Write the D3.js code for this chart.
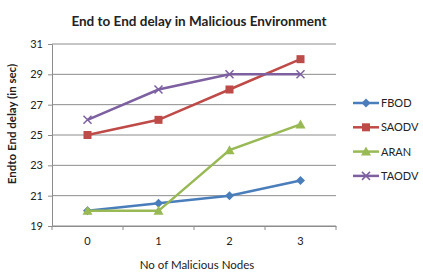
<!DOCTYPE html>
<html>
<head>
<meta charset="utf-8">
<script src="https://cdn.jsdelivr.net/npm/d3@7"></script>
<style>
  body { margin: 0; background: #fff; }
  text { font-family: Lato, "Open Sans", sans-serif; fill: #222; }
</style>
</head>
<body>
<div id="chart"></div>
<script>
var nodes = ['0', '1', '2', '3']
var yTicks = [19, 21, 23, 25, 27, 29, 31]

var fbod = [20, 20.5, 21, 22]
var saodv = [25, 26, 28, 30]
var aran = [20, 20, 24, 25.7]
var taodv = [26, 28, 29, 29]

var seriesNames = ['FBOD', 'SAODV', 'ARAN', 'TAODV']
var seriesValues = [fbod, saodv, aran, taodv]
var seriesColors = ['#4a7ebb', '#be4b48', '#98b954', '#7d60a0']
var seriesMarks = ['diamond', 'square', 'triangle', 'cross']

var width = 423, height = 280

var svg = d3.select('#chart')
    .append('svg')
    .attr('width', width)
    .attr('height', height)

var x = d3.scaleBand().domain(nodes).range([52, 336])
var y = d3.scaleLinear().domain([19, 31]).range([226, 44])

// gridlines
svg.append('g')
    .selectAll('line')
    .data(yTicks)
    .enter()
    .append('line')
    .attr('x1', 52).attr('x2', 336)
    .attr('y1', function(d) { return y(d) })
    .attr('y2', function(d) { return y(d) })
    .attr('stroke', '#8c8c8c')
    .attr('stroke-width', 1)

// y axis
var yAxis = svg.append('g')
    .attr('transform', 'translate(52,0)')
    .call(d3.axisLeft(y).tickValues(yTicks).tickSize(4).tickPadding(5))
yAxis.selectAll('path, line').attr('stroke', '#8c8c8c')
yAxis.selectAll('text').style('font-size', '11px').attr('fill', '#222')

// x axis, ticks on band boundaries
var xAxis = svg.append('g')
    .attr('transform', 'translate(0,226)')
    .call(d3.axisBottom(x).tickSize(0).tickPadding(11))
xAxis.select('path').attr('stroke', '#8c8c8c')
xAxis.selectAll('text').style('font-size', '11px').attr('fill', '#222')

svg.append('g')
    .selectAll('line')
    .data(nodes.concat(['end']))
    .enter()
    .append('line')
    .attr('x1', function(d, i) { return 52 + i * x.bandwidth() })
    .attr('x2', function(d, i) { return 52 + i * x.bandwidth() })
    .attr('y1', 226).attr('y2', 230)
    .attr('stroke', '#8c8c8c')

function cx(d, i) { return x(nodes[i]) + x.bandwidth() / 2 }

function drawMark(g, kind, color, px, py) {
    if (kind == 'diamond') {
        g.append('path')
            .attr('d', 'M' + px + ',' + (py - 4.5) + 'L' + (px + 4.5) + ',' + py + 'L' + px + ',' + (py + 4.5) + 'L' + (px - 4.5) + ',' + py + 'Z')
            .attr('fill', color)
    } else if (kind == 'square') {
        g.append('rect')
            .attr('x', px - 4).attr('y', py - 4)
            .attr('width', 8).attr('height', 8)
            .attr('fill', color)
    } else if (kind == 'triangle') {
        g.append('path')
            .attr('d', 'M' + px + ',' + (py - 5) + 'L' + (px + 5) + ',' + (py + 4) + 'L' + (px - 5) + ',' + (py + 4) + 'Z')
            .attr('fill', color)
    } else {
        g.append('path')
            .attr('d', 'M' + (px - 4) + ',' + (py - 4) + 'L' + (px + 4) + ',' + (py + 4) + 'M' + (px + 4) + ',' + (py - 4) + 'L' + (px - 4) + ',' + (py + 4))
            .attr('stroke', color)
            .attr('stroke-width', 1.5)
            .attr('fill', 'none')
    }
}

var line = d3.line()
    .x(cx)
    .y(function(d) { return y(d) })

seriesValues.forEach(function(vals, s) {
    var g = svg.append('g')
    g.append('path')
        .datum(vals)
        .attr('d', line)
        .attr('fill', 'none')
        .attr('stroke', seriesColors[s])
        .attr('stroke-width', 2.5)
    vals.forEach(function(v, i) {
        drawMark(g, seriesMarks[s], seriesColors[s], cx(v, i), y(v))
    })
})

// legend
var legend = svg.append('g')
seriesNames.forEach(function(name, s) {
    var ly = 103 + s * 24.3
    legend.append('line')
        .attr('x1', 353).attr('x2', 379)
        .attr('y1', ly).attr('y2', ly)
        .attr('stroke', seriesColors[s])
        .attr('stroke-width', 2.5)
    drawMark(legend, seriesMarks[s], seriesColors[s], 366, ly)
    legend.append('text')
        .attr('x', 381).attr('y', ly + 4)
        .style('font-size', '11px')
        .text(name)
})

// titles
svg.append('text')
    .attr('x', 199).attr('y', 26)
    .attr('text-anchor', 'middle')
    .style('font-size', '13.5px')
    .style('font-weight', 'bold')
    .text('End to End delay in Malicious Environment')

svg.append('text')
    .attr('x', 197).attr('y', 269)
    .attr('text-anchor', 'middle')
    .style('font-size', '11.5px')
    .text('No of Malicious Nodes')

svg.append('text')
    .attr('transform', 'translate(16,124) rotate(-90)')
    .attr('text-anchor', 'middle')
    .style('font-size', '11.5px')
    .style('font-weight', 'bold')
    .text('Endto End delay (in sec)')
</script>
</body>
</html>
